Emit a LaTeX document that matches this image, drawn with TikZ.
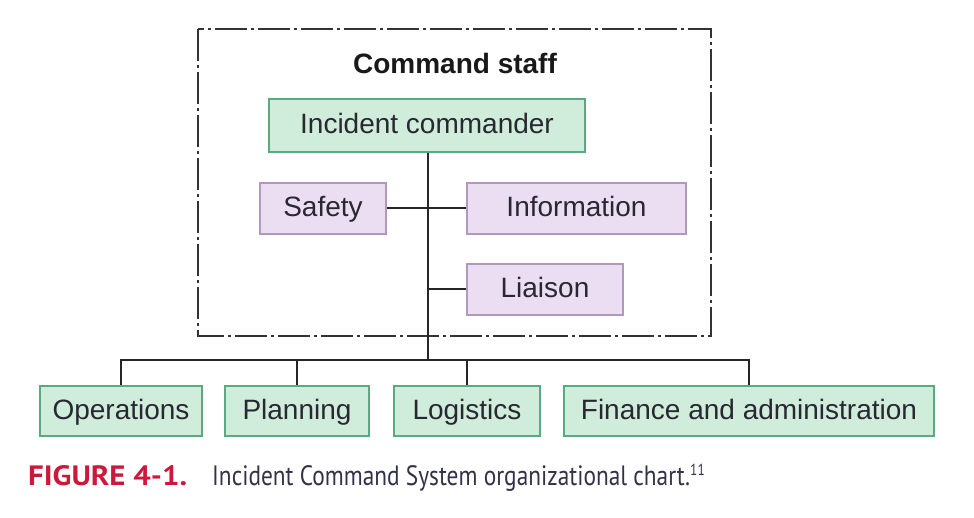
\documentclass[tikz,border=0pt]{standalone}
\usepackage{fontspec}
\setmainfont{Liberation Sans}
\newfontfamily\capfont{PT Sans}
\usepackage{graphicx}
\definecolor{gfill}{RGB}{208,236,218}
\definecolor{gdraw}{RGB}{88,170,128}
\definecolor{pfill}{RGB}{236,222,242}
\definecolor{pdraw}{RGB}{178,152,188}
\definecolor{txt}{RGB}{40,40,50}
\definecolor{figred}{RGB}{204,24,58}
\definecolor{captxt}{RGB}{50,50,72}
\tikzset{
  boxbase/.style={inner sep=0pt, text=txt, text height=21pt, text depth=5pt,
    font=\fontsize{28}{32}\selectfont},
  gbox/.style={boxbase, draw=gdraw, fill=gfill, line width=1.6pt},
  pbox/.style={boxbase, draw=pdraw, fill=pfill, line width=1.4pt},
  conn/.style={line width=2pt, black!85},
}
\begin{document}
\begin{tikzpicture}[x=1pt,y=-1pt]
\useasboundingbox (0,0) rectangle (974,518);
% command staff frame
\draw[line width=2pt, black!80, dash pattern=on 32pt off 4pt on 3pt off 4pt]
  (198,29) rectangle (711,336);
\node[font=\bfseries\fontsize{28}{32}\selectfont, text=black!90] (cs) at (455,63) {Command staff};
% nodes
\node[gbox, minimum width=316pt, minimum height=53pt] (ic) at (427,125.5) {Incident commander};
\node[pbox, minimum width=126pt, minimum height=51pt] (safety) at (323,208.5) {Safety};
\node[pbox, minimum width=219pt, minimum height=51pt] (info) at (576.5,208.5) {Information};
\node[pbox, minimum width=156pt, minimum height=51pt] (liaison) at (545,289.5) {Liaison};
\node[gbox, minimum width=162pt, minimum height=50pt] (ops) at (121,411) {Operations};
\node[gbox, minimum width=144pt, minimum height=50pt] (plan) at (297,411) {Planning};
\node[gbox, minimum width=146pt, minimum height=50pt] (log) at (467,411) {Logistics};
\node[gbox, minimum width=370pt, minimum height=50pt] (fin) at (749,411) {Finance and administration};
% coordinates
\coordinate (bus) at (428,360);
\coordinate (jL) at (428,289.5);
% connectors
\draw[conn] (ic.south -| bus) -- (bus);
\draw[conn] (safety.east) -- (info.west);
\draw[conn] (jL) -- (liaison.west);
\draw[conn] (ops.north) |- (bus) -| (fin.north);
\draw[conn] (plan.north) -- (plan.north |- bus);
\draw[conn] (log.north) -- (log.north |- bus);
% caption
\node[anchor=base west, inner sep=0pt, text=figred, font=\capfont\bfseries\fontsize{28}{32}\selectfont] (figlab) at (28,485)
  {\resizebox{159pt}{\height}{FIGURE 4-1.}};
\node[anchor=base west, inner sep=0pt, text=captxt, font=\capfont\fontsize{28}{32}\selectfont] (figcap) at (212,485)
  {\resizebox{493pt}{\height}{Incident Command System organizational chart.\textsuperscript{\fontsize{16}{16}\selectfont 11}}};
\end{tikzpicture}
\end{document}
